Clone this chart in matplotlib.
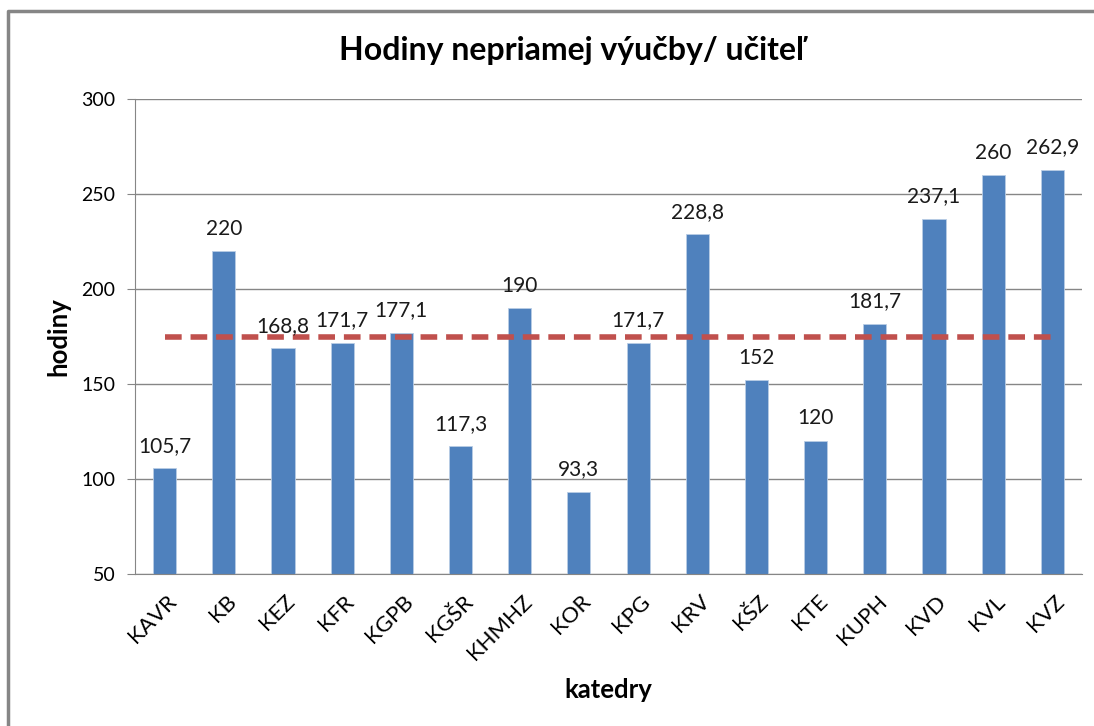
import numpy as np
import matplotlib.pyplot as plt
from matplotlib.lines import Line2D
from matplotlib.transforms import ScaledTranslation

plt.rcParams['font.family'] = ['Lato', 'DejaVu Sans']

katedry = ['KAVR', 'KB', 'KEZ', 'KFR', 'KGPB', 'KGŠR', 'KHMHZ', 'KOR',
           'KPG', 'KRV', 'KŠZ', 'KTE', 'KUPH', 'KVD', 'KVL', 'KVZ']
hodiny = [105.7, 220, 168.8, 171.7, 177.1, 117.3, 190, 93.3,
          171.7, 228.8, 152, 120, 181.7, 237.1, 260, 262.9]
priemer = [175] * len(katedry)

fig = plt.figure(figsize=(10.94, 7.26), dpi=100)
ax = fig.add_axes([0.1234, 0.2094, 0.8656, 0.6542])

x = np.arange(len(katedry))
ax.bar(x, hodiny, width=0.39, color='#4F81BD', edgecolor='#B9CDE5',
       linewidth=0.6, zorder=2)
ax.plot(x, priemer, color='#C0504D', lw=4, linestyle=(0, (3, 1.6)),
        zorder=3)

for xi, v in zip(x, hodiny):
    txt = ('%g' % v).replace('.', ',')
    ax.annotate(txt, (xi, v), xytext=(0, 9), textcoords='offset points',
                ha='center', va='bottom', fontsize=15, color='#1a1a1a')

ax.set_xlim(-0.5, len(katedry) - 0.5)
ax.set_ylim(50, 300)
ax.set_yticks(range(50, 301, 50))
ax.yaxis.grid(True, color='#868686', lw=1)
ax.set_axisbelow(True)

for s in ['top', 'right']:
    ax.spines[s].set_visible(False)
ax.spines['left'].set_color('#868686')
ax.spines['bottom'].set_color('#868686')

ax.tick_params(axis='y', length=6, color='#868686', labelsize=14, pad=8)
ax.tick_params(axis='x', length=0, labelsize=16, pad=6)
ax.set_xticks(x)
ax.set_xticklabels(katedry, rotation=45, ha='right', va='center',
                   rotation_mode='anchor')
for lab in ax.get_xticklabels():
    lab.set_transform(lab.get_transform() + ScaledTranslation(0.09, -0.16, fig.dpi_scale_trans))

ax.set_ylabel('hodiny', fontsize=18.5, fontweight='bold', labelpad=8)
ax.set_xlabel('katedry', fontsize=18.5, fontweight='bold', labelpad=10)

fig.text(0.522, 0.93, 'Hodiny nepriamej výučby/ učiteľ', ha='center',
         va='center', fontsize=23, fontweight='bold')

# chart frame (top and left edges visible)
fig.lines.append(Line2D([8 / 1094, 8 / 1094, 1.0], [0, 1 - 11 / 726, 1 - 11 / 726],
                        transform=fig.transFigure, color='#868686', lw=2.5))

fig.savefig('out.png', dpi=100)
